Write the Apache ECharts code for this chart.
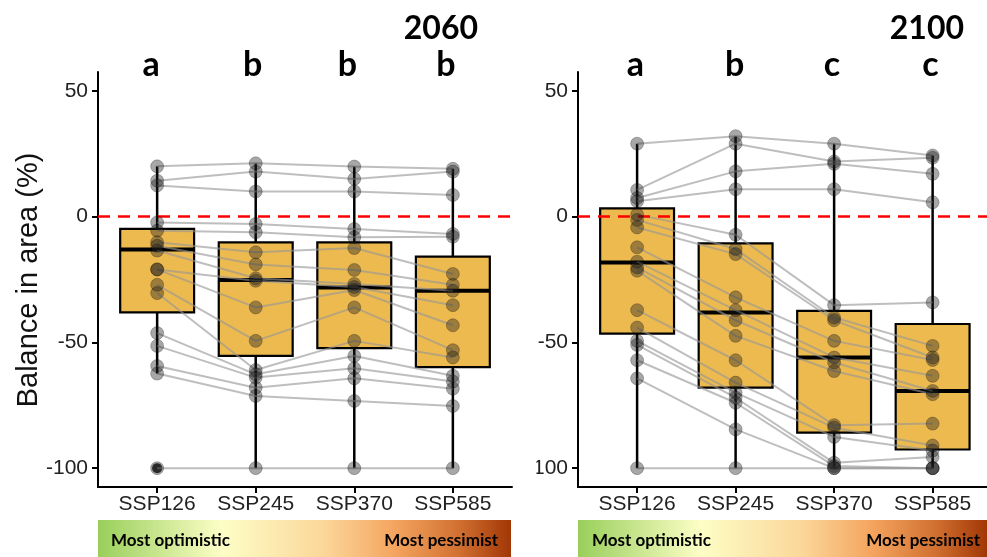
<!DOCTYPE html>
<html>
<head>
<meta charset="utf-8">
<script src="https://cdn.jsdelivr.net/npm/echarts@6/dist/echarts.min.js"></script>
<style>
html,body{margin:0;padding:0;background:#fff;}
#chart{width:987px;height:557px;}
</style>
</head>
<body>
<div id="chart"></div>
<script>
// ---- categories / ticks ----
const categories = ['SSP126', 'SSP245', 'SSP370', 'SSP585'];
const yTicks = [-100, -50, 0, 50];
const panelTitles = ['2060', '2100'];
const letters2060 = ['a', 'b', 'b', 'b'];
const letters2100 = ['a', 'b', 'c', 'c'];

// ---- 2060: value of each unit (same index = same unit) per scenario ----
const v2060_SSP126 = [20, 14.3, 12.4, -2.3, -5.6, -10.2, -11.6, -13.5, -21, -21, -27.1, -30.4, -46.3, -51.4, -59.4, -62.4, -100];
const v2060_SSP245 = [21.2, 17.9, 10, -2.9, -6.2, -14.2, -19, -24.5, -25.5, -36.1, -49.4, -61, -62.7, -64, -68, -71.3, -100];
const v2060_SSP370 = [19.9, 15, 10, -4.9, -8.2, -12.5, -21.2, -26.8, -28, -29.2, -36.1, -49.4, -55.4, -60.3, -64.3, -73.3, -100];
const v2060_SSP585 = [19, 17.9, 8.6, -6.9, -8, -22.8, -27.1, -29.5, -35.2, -43.2, -53.1, -56, -63.3, -65.6, -68.4, -75.3, -100];

// ---- 2100 ----
const v2100_SSP126 = [29, 10.6, 7.4, 6.1, 0.8, -1.3, -4.3, -12.2, -17.9, -20.2, -21.5, -37.2, -44.1, -49.4, -51, -57.1, -64.3, -100];
const v2100_SSP245 = [32, 29, 18, 10.9, -7.2, -12.9, -14.9, -32.1, -37.2, -41.2, -47.4, -57.1, -66, -70, -72, -74, -84.6, -100];
const v2100_SSP370 = [29, 21.9, 21, 10.9, -35.2, -40.1, -41.2, -49.4, -56, -58, -61.4, -82.9, -83.9, -87.6, -97.9, -99.2, -100, -100];
const v2100_SSP585 = [24.3, 23.4, 17, 5.7, -34.1, -51.4, -56, -57, -63.3, -69.3, -70.6, -82.3, -91, -93, -95.6, -100, -100, -100];

// ---- box statistics: [lower whisker, Q1, median, Q3, upper whisker] ----
const box2060 = [
  [-62.4, -38.1, -13.1, -4.9, 20],
  [-100, -55.4, -25.2, -10.2, 21.2],
  [-100, -52.3, -28.2, -10.2, 19.9],
  [-100, -59.8, -29.5, -15.9, 19]
];
const box2100 = [
  [-100, -46.5, -18.2, 3.3, 29],
  [-100, -68, -38.1, -10.6, 32],
  [-100, -85.9, -56, -37.5, 29],
  [-100, -92.6, -69.3, -42.7, 24.3]
];
// outliers: [scenario index, value]
const outliers2060 = [[0, -100]];
const outliers2100 = [];

const vals2060 = [v2060_SSP126, v2060_SSP245, v2060_SSP370, v2060_SSP585];
const vals2100 = [v2100_SSP126, v2100_SSP245, v2100_SSP370, v2100_SSP585];

const chart = echarts.init(document.getElementById('chart'), null, {renderer: 'canvas'});

const BOX_FILL = '#EDBA50';
const HALF_W = 0.375;

function boxRender(params, api) {
  const x = api.value(0);
  const low = api.value(1), q1 = api.value(2), med = api.value(3), q3 = api.value(4), high = api.value(5);
  const pLow = api.coord([x, low]);
  const pHigh = api.coord([x, high]);
  const tl = api.coord([x - HALF_W, q3]);
  const br = api.coord([x + HALF_W, q1]);
  const ml = api.coord([x - HALF_W, med]);
  const mr = api.coord([x + HALF_W, med]);
  return {
    type: 'group',
    children: [
      {type: 'line', shape: {x1: pLow[0], y1: pLow[1], x2: pHigh[0], y2: pHigh[1]}, style: {stroke: '#000', lineWidth: 2.5}},
      {type: 'rect', shape: {x: tl[0], y: tl[1], width: br[0] - tl[0], height: br[1] - tl[1]}, style: {fill: BOX_FILL, stroke: '#000', lineWidth: 2.2}},
      {type: 'line', shape: {x1: ml[0], y1: ml[1], x2: mr[0], y2: mr[1]}, style: {stroke: '#000', lineWidth: 4}}
    ]
  };
}

function panelSeries(idx, vals, boxes, outliers) {
  const s = [];
  s.push({
    type: 'custom', xAxisIndex: idx, yAxisIndex: idx, z: 1, silent: true,
    renderItem: boxRender,
    encode: {x: 0, y: [1, 2, 3, 4, 5]},
    data: boxes.map((b, j) => [j + 1].concat(b))
  });
  s.push({
    type: 'scatter', xAxisIndex: idx, yAxisIndex: idx, z: 2, silent: true,
    symbolSize: 10, itemStyle: {color: '#000'},
    data: outliers.map(o => [o[0] + 1, o[1]])
  });
  const n = vals[0].length;
  for (let i = 0; i < n; i++) {
    s.push({
      type: 'line', xAxisIndex: idx, yAxisIndex: idx, z: 3, silent: true,
      symbol: 'none', lineStyle: {color: 'rgba(150,150,150,0.62)', width: 2},
      data: vals.map((arr, j) => [j + 1, arr[i]])
    });
  }
  s.push({
    type: 'line', xAxisIndex: idx, yAxisIndex: idx, z: 4, silent: true, data: [],
    markLine: {
      silent: true, symbol: 'none', label: {show: false}, z: 4,
      lineStyle: {color: '#FF0000', type: [12, 8], width: 2.6},
      data: [{yAxis: 0}]
    }
  });
  const pts = [];
  vals.forEach((arr, j) => arr.forEach(v => pts.push([j + 1, v])));
  s.push({
    type: 'scatter', xAxisIndex: idx, yAxisIndex: idx, z: 5, silent: true,
    symbolSize: 13,
    itemStyle: {color: 'rgba(25,25,25,0.48)', borderColor: 'rgba(0,0,0,0.3)', borderWidth: 1},
    data: pts
  });
  return s;
}

const axisFont = 'Liberation Sans, Arial, sans-serif';
const boldFont = 'Lato, "Open Sans", sans-serif';

function xAxisCfg(idx, max) {
  return {
    type: 'value', gridIndex: idx, min: 0.4, max: max,
    splitLine: {show: false},
    axisLine: {show: true, onZero: false, lineStyle: {color: '#000', width: 2}},
    axisTick: {show: true, length: 6, lineStyle: {color: '#000', width: 2}, customValues: [1, 2, 3, 4]},
    axisLabel: {
      show: true, customValues: [1, 2, 3, 4], margin: 7,
      fontFamily: axisFont, fontSize: 21, color: '#222',
      formatter: v => categories[Math.round(v) - 1]
    }
  };
}
function yAxisCfg(idx) {
  return {
    type: 'value', gridIndex: idx, min: -107.5, max: 57.5,
    splitLine: {show: false},
    axisLine: {show: true, onZero: false, lineStyle: {color: '#000', width: 2}},
    axisTick: {show: true, length: 6, lineStyle: {color: '#000', width: 2}, customValues: yTicks},
    axisLabel: {show: true, customValues: yTicks, margin: 10, fontFamily: axisFont, fontSize: 21, color: '#222'}
  };
}

function gradient() {
  return new echarts.graphic.LinearGradient(0, 0, 1, 0, [
    {offset: 0, color: '#98CF5B'},
    {offset: 0.3, color: '#FDFEC6'},
    {offset: 0.55, color: '#FBD699'},
    {offset: 0.72, color: '#F4A45E'},
    {offset: 0.87, color: '#D27232'},
    {offset: 1, color: '#A23706'}
  ]);
}

const graphics = [];
// hide the part of the right panel's labels that is cut in the figure
graphics.push({type: 'rect', z: 100, shape: {x: 514, y: 80, width: 22.5, height: 400}, style: {fill: '#fff'}});
// y axis title
graphics.push({type: 'text', x: 28.5, y: 280, rotation: Math.PI / 2,
  style: {text: 'Balance in area (%)', fontFamily: axisFont, fontSize: 29, fill: '#111', align: 'center', verticalAlign: 'middle'}});
// panel titles
graphics.push({type: 'text', x: 478, y: 28.5, style: {text: panelTitles[0], fontFamily: boldFont, fontWeight: 'bold', fontSize: 32, fill: '#000', align: 'right', verticalAlign: 'middle'}});
graphics.push({type: 'text', x: 964, y: 28.5, style: {text: panelTitles[1], fontFamily: boldFont, fontWeight: 'bold', fontSize: 32, fill: '#000', align: 'right', verticalAlign: 'middle'}});
// gradient bars
graphics.push({type: 'rect', shape: {x: 98, y: 520, width: 413, height: 37}, style: {fill: gradient()}});
graphics.push({type: 'rect', shape: {x: 578, y: 520, width: 409, height: 37}, style: {fill: gradient()}});
const barTxt = {fontFamily: boldFont, fontWeight: 'bold', fontSize: 17, fill: '#000', verticalAlign: 'middle'};
graphics.push({type: 'text', x: 111, y: 541, style: Object.assign({text: 'Most optimistic', align: 'left'}, barTxt)});
graphics.push({type: 'text', x: 498, y: 541, style: Object.assign({text: 'Most pessimist', align: 'right'}, barTxt)});
graphics.push({type: 'text', x: 592, y: 541, style: Object.assign({text: 'Most optimistic', align: 'left'}, barTxt)});
graphics.push({type: 'text', x: 980, y: 541, style: Object.assign({text: 'Most pessimist', align: 'right'}, barTxt)});

const option = {
  animation: false,
  backgroundColor: '#fff',
  grid: [
    {left: 98, top: 72, width: 414, height: 415, containLabel: false, outerBoundsMode: 'none'},
    {left: 578, top: 72, width: 409, height: 415, containLabel: false, outerBoundsMode: 'none'}
  ],
  xAxis: [xAxisCfg(0, 4.6), xAxisCfg(1, 4.552)],
  yAxis: [yAxisCfg(0), yAxisCfg(1)],
  series: panelSeries(0, vals2060, box2060, outliers2060).concat(panelSeries(1, vals2100, box2100, outliers2100)),
  graphic: graphics
};
chart.setOption(option);

// significance letters, placed just above each scenario using the axis scale
const letterOffsets = [-0.06, -0.03, -0.07, -0.07];
function addLetters(idx, letters) {
  return letters.map((t, j) => {
    const p = chart.convertToPixel({xAxisIndex: idx, yAxisIndex: idx}, [j + 1 + letterOffsets[j] * (idx === 0 ? 1 : 0.3), 0]);
    return {type: 'text', x: p[0], y: 65, style: {text: t, fontFamily: boldFont, fontWeight: 'bold', fontSize: 34, fill: '#000', align: 'center', verticalAlign: 'middle'}};
  });
}
chart.setOption({graphic: graphics.concat(addLetters(0, letters2060), addLetters(1, letters2100))});
</script>
</body>
</html>
